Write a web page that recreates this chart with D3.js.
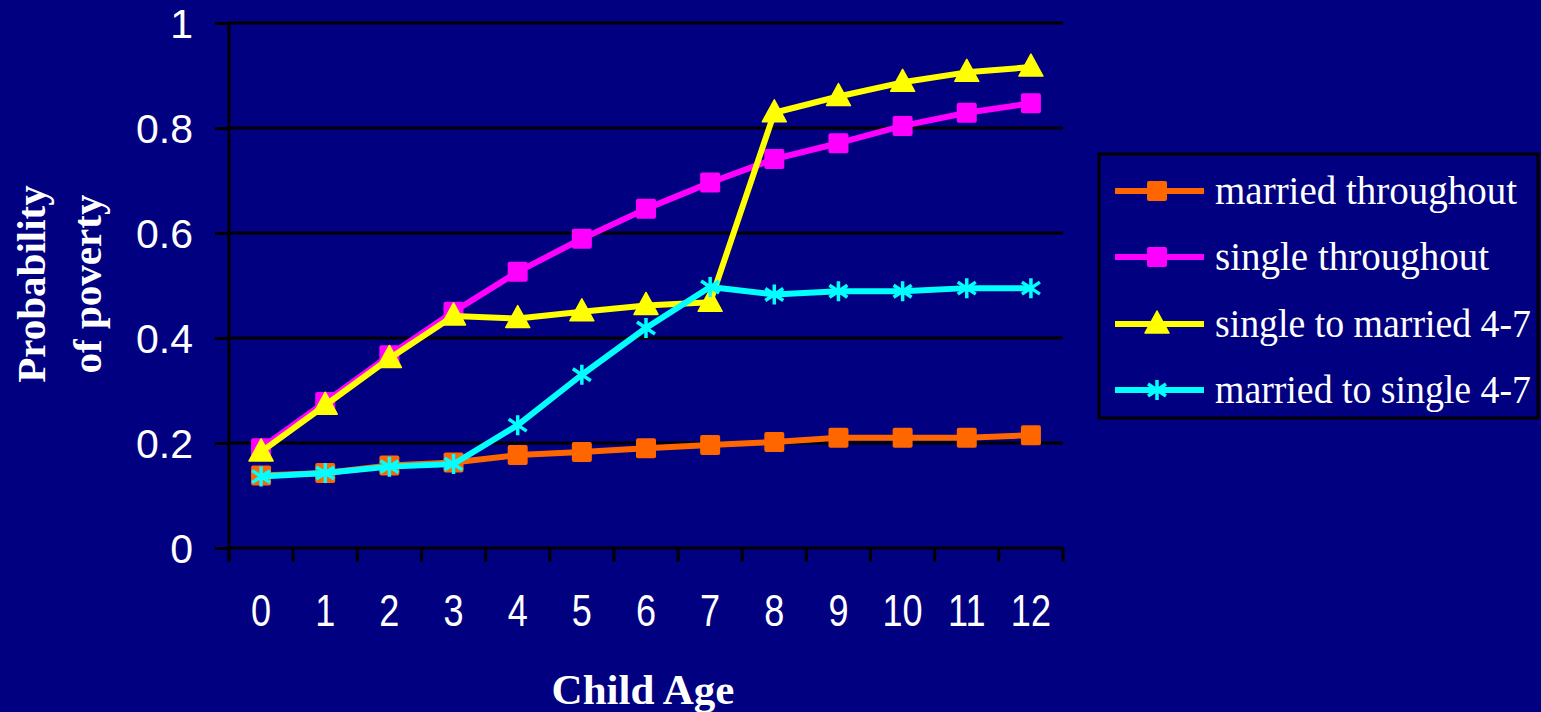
<!DOCTYPE html>
<html>
<head>
<meta charset="utf-8">
<script src="https://cdn.jsdelivr.net/npm/d3@7"></script>
<style>
  html, body { margin: 0; padding: 0; background: #000080; }
  svg { display: block; }
</style>
</head>
<body>
<svg id="chart" width="1541" height="712"></svg>
<script>
const ages = ["0","1","2","3","4","5","6","7","8","9","10","11","12"];
const yTicks = [0, 0.2, 0.4, 0.6, 0.8, 1];
const yTickLabels = ["0", "0.2", "0.4", "0.6", "0.8", "1"];

const marriedThroughout = [0.138, 0.143, 0.157, 0.163, 0.177, 0.183, 0.19, 0.196, 0.202, 0.21, 0.21, 0.21, 0.215];
const singleThroughout  = [0.19, 0.278, 0.367, 0.45, 0.526, 0.589, 0.646, 0.696, 0.741, 0.771, 0.804, 0.829, 0.847];
const singleToMarried   = [0.183, 0.272, 0.361, 0.442, 0.437, 0.45, 0.462, 0.468, 0.829, 0.86, 0.887, 0.906, 0.916];
const marriedToSingle   = [0.136, 0.143, 0.155, 0.16, 0.234, 0.33, 0.419, 0.497, 0.483, 0.489, 0.489, 0.495, 0.495];

const seriesNames  = ["married throughout", "single throughout", "single to married 4-7", "married to single 4-7"];
const seriesColors = ["#FF6600", "#FF00FF", "#FFFF00", "#00FFFF"];
const seriesMarkers = ["square", "square", "triangle", "asterisk"];
const seriesValues = [marriedThroughout, singleThroughout, singleToMarried, marriedToSingle];

const xTitle = "Child Age";
const yTitleLines = ["Probability", "of poverty"];

const svg = d3.select("#chart");
const W = 1541, H = 712;
svg.append("rect").attr("width", W).attr("height", H).attr("fill", "#000080");

const plot = { left: 229, right: 1063, top: 23, bottom: 548 };

const x = d3.scaleBand().domain(ages).range([plot.left, plot.right]).paddingInner(0).paddingOuter(0);
const y = d3.scaleLinear().domain([0, 1]).range([plot.bottom, plot.top]);

// gridlines
svg.append("g").selectAll("line").data(yTicks.filter(d => d > 0)).join("line")
  .attr("x1", plot.left).attr("x2", plot.right)
  .attr("y1", d => y(d)).attr("y2", d => y(d))
  .attr("stroke", "#000").attr("stroke-width", 3);

// y axis
const yAxis = d3.axisLeft(y).tickValues(yTicks).tickSize(14).tickPadding(22)
  .tickFormat((d, i) => yTickLabels[i]);
const gy = svg.append("g").attr("transform", `translate(${plot.left},0)`).call(yAxis);
gy.select(".domain").remove();
gy.selectAll(".tick line").attr("stroke", "#000").attr("stroke-width", 3);
gy.selectAll(".tick text").attr("fill", "#fff")
  .style("font-family", "'Liberation Sans', Arial, sans-serif").style("font-size", "41px")
  .attr("dy", "0.36em");
svg.append("line").attr("x1", plot.left).attr("x2", plot.left)
  .attr("y1", plot.top).attr("y2", plot.bottom + 14)
  .attr("stroke", "#000").attr("stroke-width", 3);

// x axis: ticks at band edges
const edges = ages.map(a => x(a)).concat([plot.right]);
svg.append("line").attr("x1", plot.left).attr("x2", plot.right)
  .attr("y1", plot.bottom).attr("y2", plot.bottom)
  .attr("stroke", "#000").attr("stroke-width", 3);
svg.append("g").selectAll("line").data(edges).join("line")
  .attr("x1", d => d).attr("x2", d => d)
  .attr("y1", plot.bottom).attr("y2", plot.bottom + 14)
  .attr("stroke", "#000").attr("stroke-width", 3);
svg.append("g").selectAll("text").data(ages).join("text")
  .attr("transform", d => `translate(${x(d) + x.bandwidth() / 2},626) scale(0.82,1)`)
  .attr("text-anchor", "middle").attr("fill", "#fff")
  .style("font-family", "'Liberation Sans', Arial, sans-serif").style("font-size", "44px")
  .text(d => d);

// axis titles
svg.append("text").attr("x", 643).attr("y", 704).attr("text-anchor", "middle")
  .attr("fill", "#fff").style("font-family", "'Liberation Serif', 'Times New Roman', serif")
  .style("font-weight", "bold").style("font-size", "43px").text(xTitle);
const yt = svg.append("text").attr("transform", "translate(0,284) rotate(-90)")
  .attr("text-anchor", "middle").attr("fill", "#fff")
  .style("font-family", "'Liberation Serif', 'Times New Roman', serif")
  .style("font-weight", "bold").style("font-size", "41px");
yt.append("tspan").attr("x", 0).attr("y", 45).text(yTitleLines[0]);
yt.append("tspan").attr("x", 0).attr("y", 101).text(yTitleLines[1]);

// markers
function drawMarker(g, type, color, cx, cy) {
  if (type === "square") {
    g.append("rect").attr("x", cx - 10).attr("y", cy - 10).attr("width", 20).attr("height", 20)
      .attr("rx", 2).attr("fill", color);
  } else if (type === "triangle") {
    g.append("path").attr("d", `M${cx},${cy - 13} L${cx + 12},${cy + 9} L${cx - 12},${cy + 9} Z`)
      .attr("fill", color).attr("stroke", color).attr("stroke-width", 1.5).attr("stroke-linejoin", "round");
  } else if (type === "asterisk") {
    const p = `M${cx},${cy - 10} L${cx},${cy + 10} M${cx - 9},${cy - 6} L${cx + 9},${cy + 6} M${cx - 9},${cy + 6} L${cx + 9},${cy - 6}`;
    g.append("path").attr("d", p).attr("stroke", color).attr("stroke-width", 3.5).attr("fill", "none");
  }
}

const line = d3.line().x((d, i) => x(ages[i]) + x.bandwidth() / 2).y(d => y(d));
seriesValues.forEach((vals, si) => {
  const g = svg.append("g");
  g.append("path").datum(vals).attr("d", line).attr("fill", "none")
    .attr("stroke", seriesColors[si]).attr("stroke-width", 6).attr("stroke-linejoin", "round");
  vals.forEach((v, i) => drawMarker(g, seriesMarkers[si], seriesColors[si], x(ages[i]) + x.bandwidth() / 2, y(v)));
});

// legend
const lg = svg.append("g");
lg.append("rect").attr("x", 1099).attr("y", 154).attr("width", 439).attr("height", 264)
  .attr("fill", "#000080").attr("stroke", "#000").attr("stroke-width", 3);
const rowY = [191, 257, 324, 390];
const legendMaxWidth = 316;
seriesNames.forEach((name, i) => {
  lg.append("line").attr("x1", 1115).attr("x2", 1204).attr("y1", rowY[i]).attr("y2", rowY[i])
    .attr("stroke", seriesColors[i]).attr("stroke-width", 6);
  drawMarker(lg, seriesMarkers[i], seriesColors[i], 1157, rowY[i]);
  const t = lg.append("text").attr("x", 1215).attr("y", rowY[i] + 13).attr("fill", "#fff")
    .style("font-family", "'Liberation Serif', 'Times New Roman', serif").style("font-size", "39px")
    .text(name);
  const w = t.node().getComputedTextLength();
  if (w > legendMaxWidth) {
    t.attr("textLength", legendMaxWidth).attr("lengthAdjust", "spacingAndGlyphs");
  }
});
</script>
</body>
</html>
